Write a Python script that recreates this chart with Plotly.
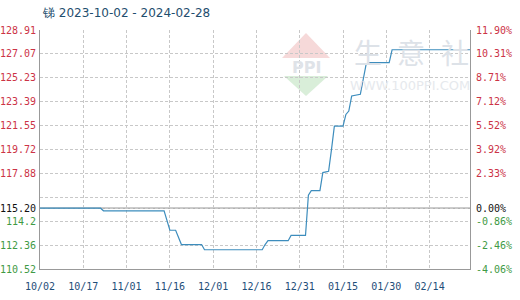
import plotly.graph_objects as go

# ---- data ----
dates = ["2023-10-02", "2023-10-23", "2023-10-24", "2023-11-14", "2023-11-16",
         "2023-11-18", "2023-11-20", "2023-11-27", "2023-11-28", "2023-12-18",
         "2023-12-19", "2023-12-20", "2023-12-27", "2023-12-28", "2024-01-02",
         "2024-01-03", "2024-01-04", "2024-01-07", "2024-01-08", "2024-01-10",
         "2024-01-11", "2024-01-12", "2024-01-15", "2024-01-16", "2024-01-17",
         "2024-01-18", "2024-01-21", "2024-01-23", "2024-01-24", "2024-01-31",
         "2024-02-01", "2024-02-28"]
prices = [115.20, 115.20, 115.00, 115.00, 113.50,
          113.50, 112.40, 112.40, 112.00, 112.00,
          112.40, 112.70, 112.70, 113.10, 113.10,
          116.20, 116.55, 116.55, 117.94, 118.04,
          119.70, 121.51, 121.51, 122.41, 122.67,
          123.83, 123.96, 126.27, 126.40, 126.40,
          127.39, 127.39]

base_price = 115.20
y_min, y_max = 110.52, 128.91
left_tick_vals = [110.52, 112.36, 114.20, 115.20, 116.04, 117.88, 119.72, 121.55, 123.39, 125.23, 127.07, 128.91]
left_tick_text = ["110.52", "112.36", "114.2", "115.20", "", "117.88", "119.72", "121.55", "123.39", "125.23", "127.07", "128.91"]
right_tick_text = ["-4.06%", "-2.46%", "-0.86%", "0.00%", "", "2.33%", "3.92%", "5.52%", "7.12%", "8.71%", "10.31%", "11.90%"]
x_tick_vals = ["2023-10-02", "2023-10-17", "2023-11-01", "2023-11-16", "2023-12-01",
               "2023-12-16", "2023-12-31", "2024-01-15", "2024-01-30", "2024-02-14"]
x_tick_text = ["10/02", "10/17", "11/01", "11/16", "12/01", "12/16", "12/31", "01/15", "01/30", "02/14"]
title_text = "锑 2023-10-02 - 2024-02-28"

RED = "#cc3346"
GREEN = "#3f9a45"
BLACK = "#111111"


def colored(texts, vals):
    out = []
    for t, v in zip(texts, vals):
        if t == "":
            out.append("")
            continue
        if abs(v - base_price) < 1e-6:
            c = BLACK
        elif v > base_price:
            c = RED
        else:
            c = GREEN
        out.append(f'<span style="color:{c}">{t}</span>')
    return out


def pct(v):
    return (v / base_price - 1) * 100


fig = go.Figure()
fig.add_trace(go.Scatter(x=dates, y=prices, mode="lines",
                         line=dict(color="#3d8dbd", width=1.2),
                         hoverinfo="skip", showlegend=False))
fig.add_trace(go.Scatter(x=[dates[0]], y=[0], yaxis="y2", mode="lines",
                         line=dict(width=0), showlegend=False, hoverinfo="skip"))

mono = "DejaVu Sans Mono"
grid_dash = "3px,2px"

fig.update_layout(
    width=520, height=300,
    margin=dict(l=40, r=50, t=30, b=31),
    paper_bgcolor="white", plot_bgcolor="white",
    showlegend=False,
    xaxis=dict(
        type="date",
        range=["2023-10-02", "2024-02-28"],
        tickvals=x_tick_vals, ticktext=x_tick_text,
        tickfont=dict(family=mono, size=10, color="#1f4e79"),
        showgrid=True, gridcolor="#c8c8c8", griddash=grid_dash, gridwidth=1,
        showline=True, linecolor="#999999", linewidth=1,
        ticks="outside", ticklen=8, tickcolor="rgba(0,0,0,0)",
        zeroline=False, fixedrange=True, automargin=False,
    ),
    yaxis=dict(
        range=[y_min, y_max],
        tickvals=left_tick_vals, ticktext=colored(left_tick_text, left_tick_vals),
        tickfont=dict(family=mono, size=10),
        showgrid=True, gridcolor="#c8c8c8", griddash=grid_dash, gridwidth=1,
        showline=True, linecolor="#999999", linewidth=1,
        ticks="", ticklabelstandoff=1,
        zeroline=False, fixedrange=True, automargin=False,
    ),
    yaxis2=dict(
        overlaying="y", side="right", anchor="x",
        range=[pct(y_min), pct(y_max)],
        tickvals=[pct(v) for v in left_tick_vals],
        ticktext=colored(right_tick_text, left_tick_vals),
        tickfont=dict(family=mono, size=10),
        showgrid=False,
        showline=True, linecolor="#999999", linewidth=1,
        ticks="", ticklabelstandoff=3,
        zeroline=False, fixedrange=True, automargin=False,
    ),
)

# solid base line at 115.20
fig.add_shape(type="line", xref="paper", x0=0, x1=1, yref="y", y0=base_price, y1=base_price,
              line=dict(color="#999999", width=1.2), layer="below")


# ---- watermark ----
def px2paper(px, py):
    return (px - 40) / 430, (269 - py) / 239


def path(pts):
    s = ""
    for i, (a, b) in enumerate(pts):
        xp, yp = px2paper(a, b)
        s += ("M" if i == 0 else "L") + f"{xp:.4f},{yp:.4f} "
    return s + "Z"


fig.add_shape(type="path", xref="paper", yref="paper",
              path=path([(282, 58), (306, 33), (330, 58)]),
              fillcolor="#f6d9d9", line=dict(width=0), layer="below")
fig.add_shape(type="path", xref="paper", yref="paper",
              path=path([(284, 76), (328, 76), (306, 96)]),
              fillcolor="#d9eed9", line=dict(width=0), layer="below")

for ch, cx in zip(["生", "意", "社"], [368, 411, 455]):
    xp, yp = px2paper(cx, 52)
    fig.add_annotation(x=xp, y=yp, xref="paper", yref="paper", text=ch, showarrow=False,
                       font=dict(family="Noto Sans CJK SC", size=28, color="#dde2e8"),
                       xanchor="center", yanchor="middle")
xp, yp = px2paper(306, 67)
fig.add_annotation(x=xp, y=yp, xref="paper", yref="paper", text="<b>PPI</b>", showarrow=False,
                   font=dict(family="DejaVu Sans", size=16, color="#dfe3e8"),
                   xanchor="center", yanchor="middle")
xp, yp = px2paper(410, 86)
fig.add_annotation(x=xp, y=yp, xref="paper", yref="paper", text="WWW.100PPI.COM", showarrow=False,
                   font=dict(family="DejaVu Sans", size=13, color="#e6e9ed"),
                   xanchor="center", yanchor="middle")

# title
fig.add_annotation(x=0, y=1, xref="paper", yref="paper", yshift=17, text=title_text, showarrow=False,
                   font=dict(family="DejaVu Sans", size=12, color="#1f4e6e"),
                   xanchor="left", yanchor="middle")

fig.write_html("out.html")
